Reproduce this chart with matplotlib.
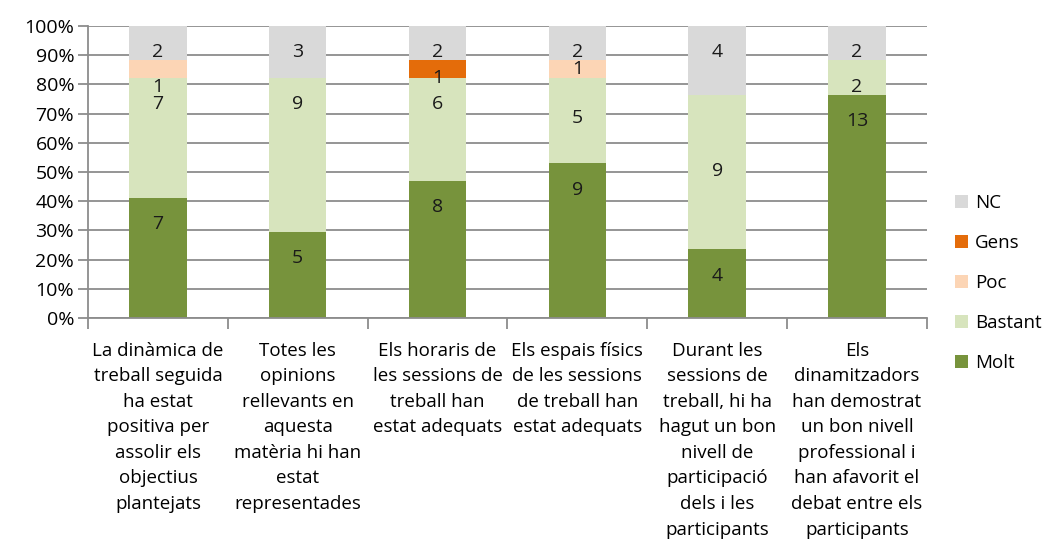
import matplotlib
matplotlib.use("Agg")
import matplotlib.pyplot as plt
import numpy as np
from matplotlib.ticker import FixedLocator, PercentFormatter

plt.rcParams["font.family"] = ["Open Sans", "DejaVu Sans"]

categories = [
    "La dinàmica de\ntreball seguida\nha estat\npositiva per\nassolir els\nobjectius\nplantejats",
    "Totes les\nopinions\nrellevants en\naquesta\nmatèria hi han\nestat\nrepresentades",
    "Els horaris de\nles sessions de\ntreball han\nestat adequats",
    "Els espais físics\nde les sessions\nde treball han\nestat adequats",
    "Durant les\nsessions de\ntreball, hi ha\nhagut un bon\nnivell de\nparticipació\ndels i les\nparticipants",
    "Els\ndinamitzadors\nhan demostrat\nun bon nivell\nprofessional i\nhan afavorit el\ndebat entre els\nparticipants",
]
series = ["Molt", "Bastant", "Poc", "Gens", "NC"]
molt = [7, 5, 8, 9, 4, 13]
bastant = [7, 9, 6, 5, 9, 2]
poc = [1, 0, 0, 1, 0, 0]
gens = [0, 0, 1, 0, 0, 0]
nc = [2, 3, 2, 2, 4, 2]
colors = ["#77933C", "#D7E4BD", "#FCD5B5", "#E46C0A", "#D9D9D9"]

# label nudges (percentage points relative to default "top - 9")
label_shift = {(2, 3): 3, (3, 2): 6, (3, 1): -5, (4, 1): -17}

counts = np.array([molt, bastant, poc, gens, nc], dtype=float)
totals = counts.sum(axis=0)
pct = counts / totals * 100

fig = plt.figure(figsize=(10.42, 5.42), dpi=100)
ax = fig.add_axes([0.0845, 0.4133, 0.805, 0.5387])
x = np.arange(len(categories))
w = 0.41
bottom = np.zeros(len(categories))
handles = []
for s, (name, col) in enumerate(zip(series, colors)):
    b = ax.bar(x, pct[s], w, bottom=bottom, color=col, label=name, zorder=2)
    handles.append(b)
    for i in range(len(categories)):
        if counts[s, i] > 0:
            top = bottom[i] + pct[s, i]
            y = top - 9 + label_shift.get((i, s), 0)
            ax.text(x[i], y, f"{int(counts[s, i])}", ha="center", va="center",
                    fontsize=14, color="#1a1a1a", zorder=3)
    bottom += pct[s]

ax.set_xlim(-0.5, len(categories) - 0.5)
ax.set_ylim(0, 100)
ax.yaxis.set_major_locator(FixedLocator(np.arange(0, 101, 10)))
ax.yaxis.set_major_formatter(PercentFormatter(decimals=0))
ax.grid(axis="y", color="#8c8c8c", linewidth=1.3, zorder=0)
ax.set_axisbelow(True)
for sp in ["top", "right"]:
    ax.spines[sp].set_visible(False)
ax.spines["left"].set_color("#8c8c8c")
ax.spines["bottom"].set_color("#8c8c8c")
ax.spines["left"].set_linewidth(1.3)
ax.spines["bottom"].set_linewidth(1.3)
ax.tick_params(axis="y", length=7, color="#8c8c8c", width=1.3, labelsize=14, pad=3)
ax.set_xticks(x)
ax.set_xticklabels(categories, fontsize=13.5, linespacing=1.54)
ax.set_xticks(np.arange(-0.5, len(categories), 1), minor=True)
ax.tick_params(axis="x", which="major", length=0, pad=17)
ax.tick_params(axis="x", which="minor", length=8, color="#8c8c8c", width=1.3)

leg = fig.legend(handles[::-1], series[::-1], loc="upper left",
                 bbox_to_anchor=(0.909, 0.655), frameon=False, fontsize=13.5,
                 handlelength=0.7, handleheight=0.7, handletextpad=0.4,
                 labelspacing=1.17, borderaxespad=0)

fig.savefig("out.png", dpi=100)
